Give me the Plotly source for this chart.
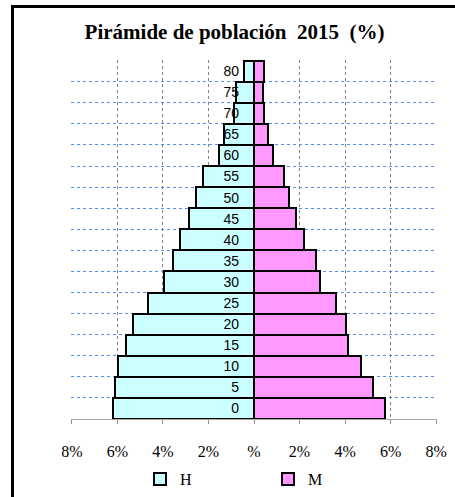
import plotly.graph_objects as go

ages = ["0", "5", "10", "15", "20", "25", "30", "35", "40", "45", "50", "55", "60", "65", "70", "75", "80"]
hombres = [6.19, 6.10, 5.97, 5.62, 5.30, 4.66, 3.96, 3.58, 3.23, 2.85, 2.54, 2.22, 1.52, 1.33, 0.90, 0.79, 0.45]
mujeres = [5.75, 5.21, 4.69, 4.15, 4.02, 3.62, 2.89, 2.72, 2.20, 1.85, 1.53, 1.33, 0.82, 0.61, 0.44, 0.39, 0.44]
x_ticks = [-8, -6, -4, -2, 0, 2, 4, 6, 8]
x_ticktext = ["8%", "6%", "4%", "2%", "%", "2%", "4%", "6%", "8%"]

idx = list(range(len(ages)))
bounds = [i + 0.5 for i in idx]
yr = [-0.5, len(ages) - 0.47]

W, H = 455, 497

fig = go.Figure()
fig.add_trace(go.Bar(
    y=idx, x=[-v for v in hombres], orientation="h", name="H",
    marker=dict(color="#CCFFFF", line=dict(color="black", width=2)),
    customdata=hombres, hovertemplate="%{customdata}%<extra>H</extra>",
))
fig.add_trace(go.Bar(
    y=idx, x=mujeres, orientation="h", name="M",
    marker=dict(color="#FF99FF", line=dict(color="black", width=2)),
))

fig.update_layout(
    width=W, height=H,
    margin=dict(l=71, r=W - 71 - 366, t=60, b=H - 60 - 359, autoexpand=False),
    paper_bgcolor="white", plot_bgcolor="white",
    barmode="overlay", bargap=0,
    title=dict(text="<b>Pirámide de población\u00a0 2015\u00a0 (%)</b>",
               x=234.5 / W, xanchor="center", xref="container",
               y=1 - 31.5 / H, yanchor="middle", yref="container",
               font=dict(family="Liberation Serif", size=21, color="black")),
    font=dict(family="Liberation Serif", color="black"),
    xaxis=dict(range=[-8.04, 8.04], tickvals=x_ticks, ticktext=x_ticktext,
               showgrid=True, gridcolor="#808080", griddash="dot", gridwidth=1,
               zeroline=False, showline=True, linecolor="#a8a8a8", linewidth=1,
               ticks="outside", ticklen=4, tickcolor="#909090",
               ticklabelstandoff=14, automargin=False,
               tickfont=dict(family="Liberation Serif", size=16, color="black"),
               fixedrange=True),
    yaxis=dict(range=yr, tickvals=idx, ticktext=ages,
               anchor="free", position=0.5, side="left",
               showgrid=False, zeroline=False, showline=False, ticks="",
               ticklabelstandoff=15, automargin=False,
               minor=dict(tickvals=bounds, showgrid=True, gridcolor="#4f8ff7",
                          griddash="dot", gridwidth=1, ticks=""),
               tickfont=dict(family="Liberation Sans", size=14, color="black"),
               fixedrange=True),
    showlegend=True,
    legend=dict(orientation="h", x=(140 - 71) / 366, xanchor="left",
                y=1 - 479 / H, yanchor="middle", yref="container",
                entrywidth=83, traceorder="normal",
                font=dict(family="Liberation Serif", size=16, color="black"),
                bgcolor="rgba(0,0,0,0)", borderwidth=0),
    shapes=[
        dict(type="line", xref="paper", yref="paper",
             x0=(12.5 - 71) / 366, x1=(12.5 - 71) / 366,
             y0=(419 - 520) / 359, y1=(419 - 6.5) / 359,
             line=dict(color="black", width=3), layer="below"),
        dict(type="line", xref="paper", yref="paper",
             x0=(11 - 71) / 366, x1=(480 - 71) / 366,
             y0=(419 - 6.5) / 359, y1=(419 - 6.5) / 359,
             line=dict(color="black", width=3), layer="below"),
    ],
)

fig.write_html(
    "out.html",
    config={"displayModeBar": False},
    post_script=("document.body.style.margin='0';"
                 "document.body.style.overflow='hidden';"
                 "document.documentElement.style.overflow='hidden';"),
)
